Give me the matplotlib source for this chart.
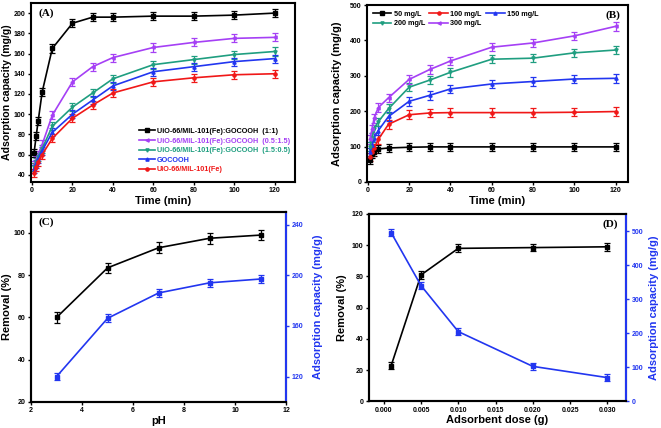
import numpy as np
import matplotlib
matplotlib.use("Agg")
import matplotlib.pyplot as plt

plt.rcParams["font.family"] = "Liberation Sans"
plt.rcParams["font.weight"] = "bold"

# (A) effect of composite ratio
time = [1, 2, 3, 5, 10, 20, 30, 40, 60, 80, 100, 120]
a_labels = ["UiO-66/MIL-101(Fe):GOCOOH  (1:1)",
            "UiO-66/MIL-101(Fe):GOCOOH  (0.5:1.5)",
            "UiO-66/MIL-101(Fe):GOCOOH  (1.5:0.5)",
            "GOCOOH",
            "UiO-66/MIL-101(Fe)"]
a_11 = [62, 78, 93, 122, 165, 190, 196, 196, 197, 197, 198, 200]
a_0515 = [50, 55, 60, 70, 99, 132, 147, 156, 166, 171, 175, 176]
a_1505 = [48, 53, 58, 66, 88, 107, 121, 135, 149, 154, 159, 162]
a_gocooh = [46, 51, 56, 64, 82, 100, 114, 128, 142, 147, 152, 155]
a_mof = [42, 48, 53, 60, 76, 96, 109, 121, 132, 136, 139, 140]

# (B) effect of initial concentration
b_labels = ["50 mg/L", "100 mg/L", "150 mg/L", "200 mg/L", "300 mg/L"]
b_50 = [62, 80, 85, 93, 96, 98, 99, 99, 99, 99, 99, 99]
b_100 = [70, 85, 95, 120, 163, 190, 195, 196, 196, 196, 197, 199]
b_150 = [85, 105, 125, 145, 185, 228, 245, 263, 277, 284, 291, 293]
b_200 = [100, 125, 150, 170, 207, 268, 288, 310, 347, 350, 365, 373]
b_300 = [120, 150, 180, 210, 238, 290, 318, 342, 381, 393, 413, 440]

# (C) effect of pH
ph = [3, 5, 7, 9, 11]
c_removal = [60, 83.5, 93, 97.5, 99]
c_capacity = [120, 166, 186, 194, 197]

# (D) effect of adsorbent dose
dose = [0.001, 0.005, 0.010, 0.020, 0.030]
d_removal = [23, 81, 98, 98.5, 99]
d_capacity = [495, 340, 205, 103, 70]

colors = ["black", "#a540f5", "#1f9e80", "#2236f0", "#f01818"]
markers = ["s", "<", "v", "^", "o"]
b_colors = ["black", "#f01818", "#2236f0", "#1f9e80", "#a540f5"]
b_markers = ["s", "o", "^", "v", "<"]
blue = "#2236f0"

fig = plt.figure(figsize=(6.61, 4.28), dpi=100)
axA = fig.add_axes([0.047, 0.575, 0.399, 0.418])
axB = fig.add_axes([0.555, 0.575, 0.395, 0.413])
axC = fig.add_axes([0.047, 0.061, 0.386, 0.444])
axD = fig.add_axes([0.558, 0.062, 0.389, 0.438])

for ax in [axA, axB, axC, axD]:
    for s in ax.spines.values():
        s.set_linewidth(1.5)
    ax.tick_params(labelsize=5, width=1, length=2.5, pad=1.5)

lw = 1.2
eb = dict(ms=2.3, lw=lw, capsize=2, elinewidth=0.9, capthick=0.9)

# panel A
handlesA = []
for ys, lab, c, m in zip([a_11, a_0515, a_1505, a_gocooh, a_mof], a_labels, colors, markers):
    cont = axA.errorbar(time, ys, yerr=4, color=c, marker=m, label=lab, **eb)
    handlesA.append(cont[0])
axA.set_xlim(-0.5, 130)
axA.set_ylim(33, 210)
axA.set_xticks([0, 20, 40, 60, 80, 100, 120])
axA.set_yticks(range(40, 201, 20))
axA.set_xlabel("Time (min)", fontsize=8, fontweight="bold", labelpad=1)
axA.set_ylabel("Adsorption capacity (mg/g)", fontsize=7.6, fontweight="bold")
axA.yaxis.set_label_coords(-0.074, 0.5)
axA.text(0.03, 0.97, "(A)", transform=axA.transAxes, fontsize=8, fontweight="bold",
         family="Liberation Serif", va="top")
legA = axA.legend(handlesA, a_labels, loc="lower right", bbox_to_anchor=(1.0, 0.02),
                  fontsize=5.2, frameon=False, handlelength=2.2, labelspacing=0.35,
                  handletextpad=0.2, borderaxespad=0.3)
for t, c in zip(legA.get_texts(), colors):
    t.set_color(c)

# panel B
handlesB = []
for ys, lab, c, m in zip([b_50, b_100, b_150, b_200, b_300], b_labels, b_colors, b_markers):
    cont = axB.errorbar(time, ys, yerr=12, color=c, marker=m, label=lab, **eb)
    handlesB.append(cont[0])
axB.set_xlim(-0.5, 126)
axB.set_ylim(0, 500)
axB.set_xticks([0, 20, 40, 60, 80, 100, 120])
axB.set_yticks(range(0, 501, 100))
axB.set_xlabel("Time (min)", fontsize=8, fontweight="bold", labelpad=1)
axB.set_ylabel("Adsorption capacity (mg/g)", fontsize=8, fontweight="bold")
axB.yaxis.set_label_coords(-0.096, 0.5)
axB.text(0.97, 0.97, "(B)", transform=axB.transAxes, fontsize=8, fontweight="bold",
         family="Liberation Serif", va="top", ha="right")
# reorder so rows read 50/100/150 then 200/300
order = [0, 3, 1, 4, 2]
axB.legend([handlesB[i] for i in order], [b_labels[i] for i in order], loc="upper left",
           ncol=3, fontsize=5.2, frameon=False, handlelength=2.6, columnspacing=0.6,
           labelspacing=0.3, handletextpad=0.3, borderaxespad=0.4)

# panel C
axC.errorbar(ph, c_removal, yerr=2.5, color="black", marker="s", **eb)
axC.set_xlim(2, 12)
axC.set_ylim(20, 110)
axC.set_xticks(range(2, 13, 2))
axC.set_yticks(range(20, 101, 20))
axC.set_xlabel("pH", fontsize=8, fontweight="bold", labelpad=1)
axC.set_ylabel("Removal (%)", fontsize=8, fontweight="bold")
axC.yaxis.set_label_coords(-0.075, 0.5)
axC.text(0.03, 0.97, "(C)", transform=axC.transAxes, fontsize=8, fontweight="bold",
         family="Liberation Serif", va="top")
axC2 = axC.twinx()
axC2.errorbar(ph, c_capacity, yerr=3, color=blue, marker="s", **eb)
axC2.set_ylim(100, 250)
axC2.set_yticks(range(120, 241, 40))
axC2.set_ylabel("Adsorption capacity (mg/g)", fontsize=8, fontweight="bold", color=blue)
axC2.yaxis.set_label_coords(1.106, 0.5)
axC2.tick_params(labelsize=5, width=1, length=2.5, pad=1.5, colors=blue)
for s in axC2.spines.values():
    s.set_linewidth(1.5)
axC2.spines["right"].set_color(blue)

# panel D
axD.errorbar(dose, d_removal, yerr=2.5, color="black", marker="s", **eb)
axD.set_xlim(-0.002, 0.0325)
axD.set_ylim(0, 120)
axD.set_xticks([0.0, 0.005, 0.010, 0.015, 0.020, 0.025, 0.030])
axD.set_xticklabels(["0.000", "0.005", "0.010", "0.015", "0.020", "0.025", "0.030"])
axD.set_yticks(range(0, 121, 20))
axD.set_xlabel("Adsorbent dose (g)", fontsize=8, fontweight="bold", labelpad=1)
axD.set_ylabel("Removal (%)", fontsize=8, fontweight="bold")
axD.yaxis.set_label_coords(-0.086, 0.5)
axD.text(0.97, 0.97, "(D)", transform=axD.transAxes, fontsize=8, fontweight="bold",
         family="Liberation Serif", va="top", ha="right")
axD2 = axD.twinx()
axD2.errorbar(dose, d_capacity, yerr=10, color=blue, marker="s", **eb)
axD2.set_ylim(0, 550)
axD2.set_yticks(range(0, 501, 100))
axD2.set_ylabel("Adsorption capacity (mg/g)", fontsize=8, fontweight="bold", color=blue)
axD2.yaxis.set_label_coords(1.09, 0.5)
axD2.tick_params(labelsize=5, width=1, length=2.5, pad=1.5, colors=blue)
for s in axD2.spines.values():
    s.set_linewidth(1.5)
axD2.spines["right"].set_color(blue)

fig.savefig("out.png", dpi=100)
